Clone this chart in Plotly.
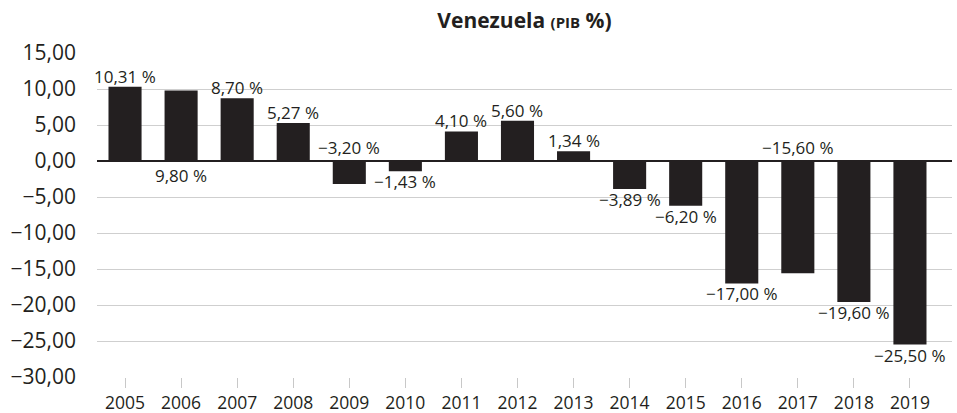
import plotly.graph_objects as go

years = ["2005", "2006", "2007", "2008", "2009", "2010", "2011", "2012",
         "2013", "2014", "2015", "2016", "2017", "2018", "2019"]
pib = [10.31, 9.80, 8.70, 5.27, -3.20, -1.43, 4.10, 5.60,
       1.34, -3.89, -6.20, -17.00, -15.60, -19.60, -25.50]
y_ticks = [15, 10, 5, 0, -5, -10, -15, -20, -25, -30]

# labels that sit on the opposite side of the zero line instead of the bar end
flip_labels = {"2006", "2009", "2017"}

INK = "#231f20"
FONT = "Open Sans"


def fmt(v, pct=True):
    s = f"{abs(v):.2f}".replace(".", ",")
    if v < 0:
        s = "\u2212" + s
    return s + (" %" if pct else "")


fig = go.Figure()
fig.add_trace(go.Bar(x=years, y=pib, marker_color=INK, marker_line_width=0,
                     width=0.59, hoverinfo="x+y"))

annotations = []
for i, (yr, v) in enumerate(zip(years, pib)):
    if yr in flip_labels:
        y = 0
        anchor = "top" if v > 0 else "bottom"
        shift = 0 if v < 0 else -1
    else:
        y = v
        anchor = "bottom" if v > 0 else "top"
        shift = -3 if v > 0 else 3
    annotations.append(dict(x=i, y=y, xref="x", yref="y", text=fmt(v),
                            showarrow=False, yanchor=anchor, yshift=shift,
                            font=dict(family=FONT, size=17, color=INK)))

fig.update_layout(
    width=957, height=413,
    margin=dict(l=97, r=5, t=53, b=36, autoexpand=False),
    paper_bgcolor="white", plot_bgcolor="white",
    showlegend=False,
    title=dict(text="<b>Venezuela <span style='font-size:15px'>(PIB</span> %)</b>",
               x=0.5, xref="paper", xanchor="center", y=0.95, yanchor="middle",
               font=dict(family=FONT, size=21, color=INK)),
    annotations=annotations,
    xaxis=dict(type="category", range=[-0.5, 14.75], showgrid=False,
               ticks="outside", ticklen=10, tickcolor="#c8c8c8", tickwidth=1,
               showline=False, zeroline=False, automargin=False,
               tickfont=dict(family=FONT, size=17.5, color=INK)),
    yaxis=dict(range=[-30, 15], tickvals=y_ticks,
               ticktext=[fmt(t, pct=False) for t in y_ticks],
               showgrid=True, gridcolor="#cfcfcf", gridwidth=1,
               zeroline=True, zerolinecolor=INK, zerolinewidth=2,
               showline=False, ticks="", ticklabelstandoff=20, automargin=False,
               tickfont=dict(family=FONT, size=21, color=INK)),
)

fig.write_html("out.html", config={"displayModeBar": False},
               post_script="document.body.style.margin='0';document.body.style.overflow='hidden';")
